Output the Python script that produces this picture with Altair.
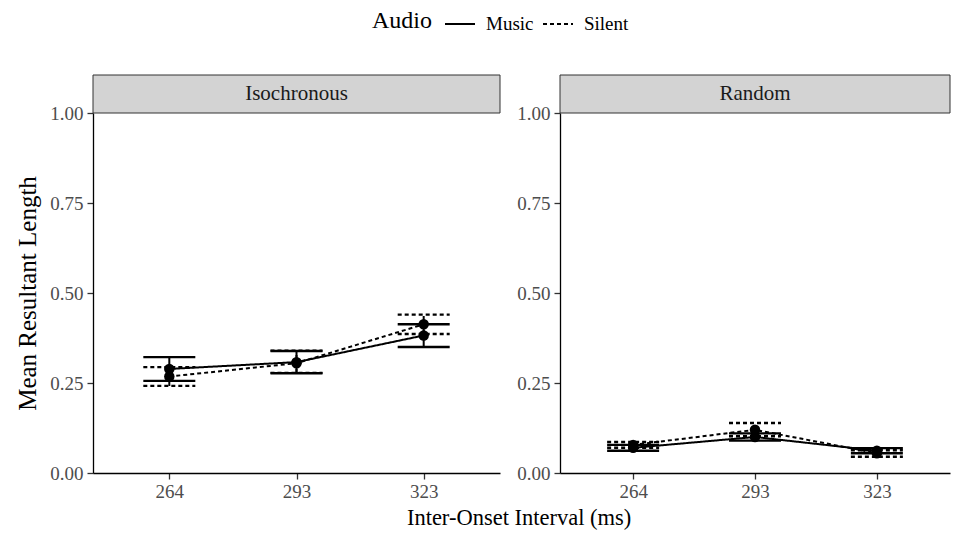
import altair as alt
import pandas as pd

ioi = ["264", "293", "323"]
audio = ["Music", "Silent"]
panels = ["Isochronous", "Random"]

iso_music_mean = [0.289, 0.308, 0.382]
iso_music_lo = [0.256, 0.277, 0.350]
iso_music_hi = [0.322, 0.339, 0.413]
iso_silent_mean = [0.268, 0.305, 0.413]
iso_silent_lo = [0.242, 0.278, 0.386]
iso_silent_hi = [0.294, 0.340, 0.440]

rnd_music_mean = [0.070, 0.100, 0.062]
rnd_music_lo = [0.062, 0.090, 0.055]
rnd_music_hi = [0.078, 0.110, 0.069]
rnd_silent_mean = [0.078, 0.120, 0.055]
rnd_silent_lo = [0.070, 0.102, 0.045]
rnd_silent_hi = [0.086, 0.139, 0.063]

series = {
    ("Isochronous", "Music"): (iso_music_mean, iso_music_lo, iso_music_hi),
    ("Isochronous", "Silent"): (iso_silent_mean, iso_silent_lo, iso_silent_hi),
    ("Random", "Music"): (rnd_music_mean, rnd_music_lo, rnd_music_hi),
    ("Random", "Silent"): (rnd_silent_mean, rnd_silent_lo, rnd_silent_hi),
}

rows = []
for (p, a), (m, lo, hi) in series.items():
    for i, x in enumerate(ioi):
        rows.append({"panel": p, "Audio": a, "ioi": x, "mean": m[i], "lo": lo[i], "hi": hi[i]})
df = pd.DataFrame(rows)

FONT = "Liberation Serif"
dash = alt.StrokeDash(
    "Audio:N",
    scale=alt.Scale(domain=audio, range=[[1, 0], [4, 3]]),
    legend=alt.Legend(
        title="Audio", orient="none", legendX=279, legendY=-105, direction="horizontal",
        titleOrient="left", titleFontSize=24, titleFontWeight="normal", titleColor="black",
        labelFontSize=19, labelColor="black", symbolType="stroke", symbolStrokeWidth=2,
        symbolSize=900, symbolStrokeColor="black", columnPadding=5, labelOffset=10,
        titlePadding=12,
    ),
)


def panel(name, width, show_title):
    d = df[df.panel == name]
    base = alt.Chart(d).properties(width=width, height=360)
    x = alt.X("ioi:O", scale=alt.Scale(type="point", padding=0.6, domain=ioi),
              axis=alt.Axis(title=None, labelAngle=0, labelFontSize=19, labelColor="#4d4d4d",
                            domainColor="black", tickColor="#333333", tickSize=6,
                            labelPadding=3, domainWidth=1.3, tickWidth=1.3))
    y = alt.Y("mean:Q", scale=alt.Scale(domain=[0, 1], nice=False, zero=True),
              axis=alt.Axis(title="Mean Resultant Length" if show_title else None,
                            values=[0, 0.25, 0.5, 0.75, 1.0], format=".2f",
                            labelFontSize=19, labelColor="#4d4d4d", titleFontSize=25,
                            titleFontWeight="normal", titleColor="black",
                            domainColor="black", tickColor="#333333", tickSize=6,
                            grid=False, labelPadding=4, titlePadding=9, domainWidth=1.3,
                            tickWidth=1.3))
    line = base.mark_line(color="black", strokeWidth=2).encode(x=x, y=y, strokeDash=dash, detail="Audio:N")
    stem = base.mark_rule(color="black", strokeWidth=2).encode(
        x="ioi:O", y="lo:Q", y2="hi:Q", strokeDash=dash)
    cap_lo = base.mark_rule(color="black", strokeWidth=2.4, xOffset=-26, x2Offset=26).encode(
        x="ioi:O", x2="ioi:O", y="lo:Q", strokeDash=dash)
    cap_hi = base.mark_rule(color="black", strokeWidth=2.4, xOffset=-26, x2Offset=26).encode(
        x="ioi:O", x2="ioi:O", y="hi:Q", strokeDash=dash)
    pts = base.mark_circle(color="black", size=110, opacity=1).encode(x="ioi:O", y="mean:Q")
    strip_df = pd.DataFrame({"label": [name]})
    strip = alt.Chart(strip_df).mark_rect(fill="#d3d3d3", stroke="#333333", strokeWidth=1).encode(
        x=alt.value(0), x2=alt.value(width), y=alt.value(-38), y2=alt.value(0))
    strip_text = alt.Chart(strip_df).mark_text(font=FONT, fontSize=21, color="#1a1a1a").encode(
        text="label:N", x=alt.value(width / 2), y=alt.value(-19))
    return alt.layer(strip, strip_text, line, stem, cap_lo, cap_hi, pts)


left = panel("Isochronous", 407, True)
right = panel("Random", 390, False)

chart = alt.hconcat(left, right, spacing=15).properties(
    title=alt.TitleParams("Inter-Onset Interval (ms)", orient="bottom", fontSize=22.5,
                          fontWeight="normal", color="black", anchor="middle", offset=6, dx=36),
    padding={"left": 7, "top": 0, "right": 0, "bottom": 0},
).configure(font=FONT).configure_view(stroke=None)

chart.save("out.html", embed_options={"renderer": "svg", "actions": False})
